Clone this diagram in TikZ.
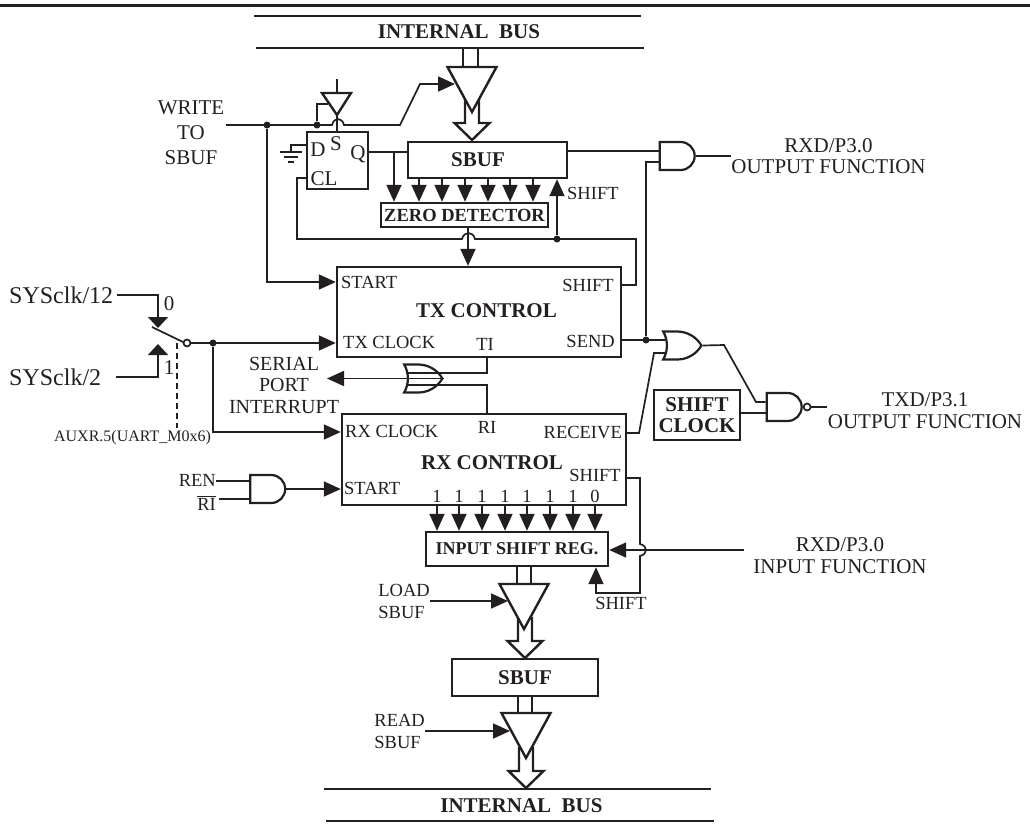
\documentclass[tikz,border=0pt]{standalone}
\usepackage{fontspec}
\setmainfont{Liberation Serif}
\usetikzlibrary{arrows.meta,shapes.gates.logic.US}
\definecolor{ink}{HTML}{231F20}
\tikzset{
  wire/.style={draw=ink,line width=1.7pt},
  heavywire/.style={draw=ink,line width=2.4pt},
  sigarrow/.style={wire,-{Triangle[length=17pt,width=15pt,fill=ink]}},
  clkarrow/.style={wire,-{Triangle[length=11pt,width=20pt,fill=ink]}},
  dotnode/.style={circle,fill=ink,inner sep=0pt,minimum size=7pt},
  blockbox/.style={rectangle,draw=ink,line width=2.4pt,inner sep=0pt,fill=white,text=ink,
    align=center,font=\fontsize{21}{21}\selectfont\bfseries},
  txtnode/.style={inner sep=0pt,text=ink,font=\fontsize{18.5}{22}\selectfont},
  bignode/.style={inner sep=0pt,text=ink,font=\fontsize{21}{25}\selectfont},
  boldnode/.style={inner sep=0pt,text=ink,font=\fontsize{21}{21}\selectfont\bfseries},
  pinnode/.style={inner sep=0pt,text=ink,align=center,font=\fontsize{21}{21.5}\selectfont},
  gatenode/.style={draw=ink,line width=2.2pt,minimum height=28pt,minimum width=35pt,
    inner sep=0pt,logic gate inputs=nn},
  tribuf/.pic={\draw[heavywire,fill=white] (-24.5,0) -- (24.5,0) -- (0,45) -- cycle;},
  hollowbus/.pic={\draw[heavywire,fill=white] (-7,0) -- (7,0) -- (7,23) -- (17.5,23)
    -- (0,40) -- (-17.5,23) -- (-7,23) -- cycle;}
}
\begin{document}
\begin{tikzpicture}[x=1pt,y=-1pt]
  \useasboundingbox (0,0) rectangle (1030,823);
  \coordinate (ruleL) at (0,5);
  \coordinate (ruleR) at (1030,5);
  \draw[draw=ink,line width=3pt] (ruleL) -- (ruleR);

  % buses
  \node[boldnode] (bustop) at (459,32) {INTERNAL\ \ BUS};
  \node[boldnode] (busbot) at (521.5,806) {INTERNAL\ \ BUS};
  \draw[heavywire] (254,16) -- (641,16);
  \draw[heavywire] (256,48) -- (644,48);
  \draw[heavywire] (324,789) -- (711,789);
  \draw[heavywire] (326,821) -- (714,821);

  % blocks
  \node[blockbox,minimum width=159pt,minimum height=36pt] (sbuftx) at (487.5,160) {};
  \node[boldnode] (sbuftxlbl) at (478,160) {SBUF};
  \node[blockbox,minimum width=167pt,minimum height=24pt,font=\fontsize{18.5}{18.5}\selectfont\bfseries]
    (zerodet) at (464.5,215) {ZERO DETECTOR};
  \node[blockbox,minimum width=61pt,minimum height=57pt] (ffbox) at (337.5,160.5) {};
  \node[bignode] (ffD) at (318,150) {D};
  \node[bignode] (ffS) at (336,144) {S};
  \node[bignode] (ffQ) at (358,154) {Q};
  \node[bignode] (ffCL) at (324,179) {CL};
  \node[blockbox,minimum width=284pt,minimum height=90pt] (txctrl) at (479,312) {};
  \node[blockbox,minimum width=284pt,minimum height=91pt] (rxctrl) at (484,459.5) {};
  \node[boldnode] (txname) at (486.5,311) {TX CONTROL};
  \node[boldnode] (rxname) at (492,463) {RX CONTROL};
  \node[txtnode,anchor=west] (txstart) at (341,282) {START};
  \node[txtnode,anchor=west] (txclock) at (343,342) {TX CLOCK};
  \node[txtnode] (txti) at (485,344) {TI};
  \node[txtnode,anchor=east] (txshift) at (614,285) {SHIFT};
  \node[txtnode,anchor=east] (txsend) at (615,341) {SEND};
  \node[txtnode,anchor=west] (rxclock) at (345,431) {RX CLOCK};
  \node[txtnode] (rxri) at (487,427) {RI};
  \node[txtnode,anchor=east] (rxrecv) at (622,433) {RECEIVE};
  \node[txtnode,anchor=east] (rxshift) at (621,475) {SHIFT};
  \node[txtnode,anchor=west] (rxstart) at (344,488) {START};
  \node[blockbox,minimum width=182pt,minimum height=34pt,font=\fontsize{18}{18}\selectfont\bfseries]
    (inreg) at (517,549) {INPUT SHIFT REG.};
  \node[blockbox,minimum width=146pt,minimum height=37pt] (sbufrx) at (525,677.5) {SBUF};
  \node[blockbox,line width=1.7pt,minimum width=86pt,minimum height=50pt] (shiftclk) at (697,415)
    {SHIFT\\CLOCK};

  % gates
  \node[and gate US,gatenode] (andtx) at (676,156) {};
  \node[or gate US,gatenode] (ortx) at (679.5,345.5) {};
  \node[and gate US,gatenode] (nandtx) at (783,407) {};
  \node[circle,draw=ink,line width=1.7pt,fill=white,inner sep=0pt,minimum size=7pt,anchor=west] (nandbub) at (nandtx.east) {};
  \node[and gate US,gatenode] (andrx) at (266.5,489) {};
  \node[or gate US,gatenode,shape border rotate=180] (orint) at (420.5,378.5) {};

  % outer labels
  \node[bignode,align=center] (writelbl) at (191,133) {WRITE\\TO\\SBUF};
  \node[bignode,font=\fontsize{24}{24}\selectfont,anchor=west] (clk12) at (9,295) {SYSclk/12};
  \node[bignode,font=\fontsize{24}{24}\selectfont,anchor=west] (clk2) at (9,377) {SYSclk/2};
  \node[bignode] (sel0) at (169,304) {0};
  \node[bignode] (sel1) at (169,368) {1};
  \node[txtnode,font=\fontsize{16}{16}\selectfont] (auxlbl) at (132.5,438) {AUXR.5(UART\_M0x6)};
  \node[bignode,font=\fontsize{20}{21.5}\selectfont,align=center] (intlbl) at (284,385) {SERIAL\\PORT\\INTERRUPT};
  \node[txtnode,anchor=east] (renlbl) at (216,480) {REN};
  \node[txtnode,anchor=east] (rilbl) at (216,503) {$\overline{\mbox{RI}}$};
  \node[txtnode,anchor=west] (shiftup) at (567,193) {SHIFT};
  \node[txtnode] (shiftlow) at (621,603) {SHIFT};
  \node[txtnode,align=left,anchor=east] (loadlbl) at (430,601) {LOAD\\SBUF};
  \node[txtnode,align=left,anchor=east] (readlbl) at (425,731) {READ\\SBUF};
  \node[pinnode] (rxdoutlbl) at (828.5,156) {RXD/P3.0\\OUTPUT FUNCTION};
  \node[pinnode] (txdoutlbl) at (925,410.5) {TXD/P3.1\\OUTPUT FUNCTION};
  \node[pinnode] (rxdinlbl) at (840,555.5) {RXD/P3.0\\INPUT FUNCTION};

  % tri-state drivers
  \draw[wire] (463,48) -- (463,68);
  \draw[wire] (478,48) -- (478,68);
  \pic at (472,100) {hollowbus};
  \pic at (472,67) {tribuf};
  \draw[wire] (517,566) -- (517,585);
  \draw[wire] (531,566) -- (531,585);
  \pic at (525,618) {hollowbus};
  \pic at (524,584) {tribuf};
  \draw[wire] (518,696) -- (518,714);
  \draw[wire] (532,696) -- (532,714);
  \pic at (526,748) {hollowbus};
  \pic at (526,713) {tribuf};

  % write side
  \coordinate (writein) at (226,125);
  \coordinate (writetip) at (455,84);
  \coordinate (holdtop) at (337,79);
  \node[dotnode] (dotwrite) at (267,125) {};
  \node[dotnode] (dotset) at (317,125) {};
  \draw[sigarrow] (writein) -- (332,125) .. controls (334,117) and (342,117) .. (344,125)
    -- (400,125) -- (420,84) -- (writetip);
  \draw[sigarrow] (dotwrite) |- (txctrl.west |- txstart);
  \draw[heavywire,fill=white] (322,93) -- (351,93) -- (337,115) -- cycle;
  \draw[wire] (holdtop) -- (337,93);
  \draw[wire] (337,115) -- (337,0 |- ffbox.north);
  \draw[wire] (dotset) |- (328,104);

  % flip flop
  \coordinate (gndtop) at (291,145);
  \draw[wire] (ffbox.west |- gndtop) -- (gndtop) -- (291,152);
  \draw[wire] (280,152) -- (302,152);
  \draw[wire] (284,157) -- (298,157);
  \draw[wire] (288,162) -- (294,162);
  \draw[wire] (ffbox.east |- 0,152) -- (sbuftx.west |- 0,152);
  \draw[sigarrow] (394,152) -- (394,0 |- zerodet.north);
  \foreach \x in {419,442,465,488,510,533}
    \draw[sigarrow] (\x,0 |- sbuftx.south) -- (\x,0 |- zerodet.north);

  % shift feedback
  \node[dotnode] (dotshift) at (557,239) {};
  \draw[wire] (ffbox.west |- 0,178) -- (297,178) -- (297,239) -- (462,239)
    .. controls (464,231) and (473,231) .. (475,239) -- (636,239) -- (636,285) -- (txctrl.east |- 0,285);
  \draw[sigarrow] (dotshift) -- (557,0 |- sbuftx.south);
  \draw[sigarrow] (468,0 |- zerodet.south) -- (468,0 |- txctrl.north);

  % clock select
  \coordinate (clk12end) at (117,295);
  \coordinate (clk2end) at (116,377);
  \coordinate (bladeL) at (152,327);
  \coordinate (bladeR) at (183,342);
  \node[circle,draw=ink,line width=1.7pt,fill=white,inner sep=0pt,minimum size=7pt] (swpole) at (187,343) {};
  \node[dotnode] (dotclk) at (213,343) {};
  \draw[clkarrow] (clk12end) -| (158,328);
  \draw[clkarrow] (clk2end) -| (158,344);
  \draw[wire] (bladeL) -- (bladeR);
  \draw[sigarrow] (swpole) -- (txctrl.west |- swpole);
  \draw[sigarrow] (dotclk) |- (rxctrl.west |- 0,432);
  \draw[wire,dash pattern=on 6pt off 4pt] (177,343) -- (177,428);

  % interrupt
  \draw[wire] (487,0 |- txctrl.south) |- (orint.input 1 |- 0,373);
  \draw[wire] (487,0 |- rxctrl.north) |- (orint.input 2 |- 0,385);
  \draw[sigarrow] (orint.output) -- (327,0 |- orint.output);

  % rx start
  \draw[wire] (renlbl.east |- 0,481) -- (andrx.west |- 0,481);
  \draw[wire] (219,499) -- (andrx.west |- 0,499);
  \draw[sigarrow] (andrx.output) -- (rxctrl.west |- andrx.output);

  % rx shift reg
  \foreach \x in {437,459,482,505,527,550,573,595}
    \draw[sigarrow] (\x,0 |- rxctrl.south) -- (\x,0 |- inreg.north);
  \foreach \x/\b [count=\i] in {437/1,459/1,482/1,505/1,527/1,550/1,573/1,595/0}
    \node[txtnode] (bit\i) at (\x,496) {\b};
  \draw[sigarrow] (rxctrl.east |- 0,478) -- (640,478) -- (640,544)
    .. controls (648,546) and (648,554) .. (640,556) -- (640,593) -- (596,593) -- (596,0 |- inreg.south);
  \coordinate (rxdend) at (744,550);
  \draw[sigarrow] (rxdend) -- (inreg.east |- rxdend);
  \coordinate (loadtip) at (508,601);
  \coordinate (readtip) at (510,731);
  \draw[sigarrow] (loadlbl.east) -- (loadtip);
  \draw[sigarrow] (readlbl.east) -- (readtip);

  % output gates
  \node[dotnode] (dotsend) at (646,340) {};
  \coordinate (rxdout) at (731,156);
  \coordinate (txdout) at (827,407);
  \draw[wire] (sbuftx.east |- 0,151) -- (andtx.west |- 0,151);
  \draw[wire] (andtx.west |- 0,162) -| (dotsend);
  \draw[wire] (andtx.output) -- (rxdout |- andtx.output);
  \draw[wire] (txctrl.east |- dotsend) -- (ortx.input 1 |- dotsend);
  \draw[wire] (rxctrl.east |- 0,433) -- (639,433) -- (654,353) -- (ortx.input 2 |- 0,353);
  \draw[wire] (ortx.output) -- (724,345) -- (756,402) -- (nandtx.west |- 0,402);
  \draw[wire] (shiftclk.east |- 0,413) -- (nandtx.west |- 0,413);
  \draw[wire] (nandbub) -- (txdout);
\end{tikzpicture}
\end{document}
